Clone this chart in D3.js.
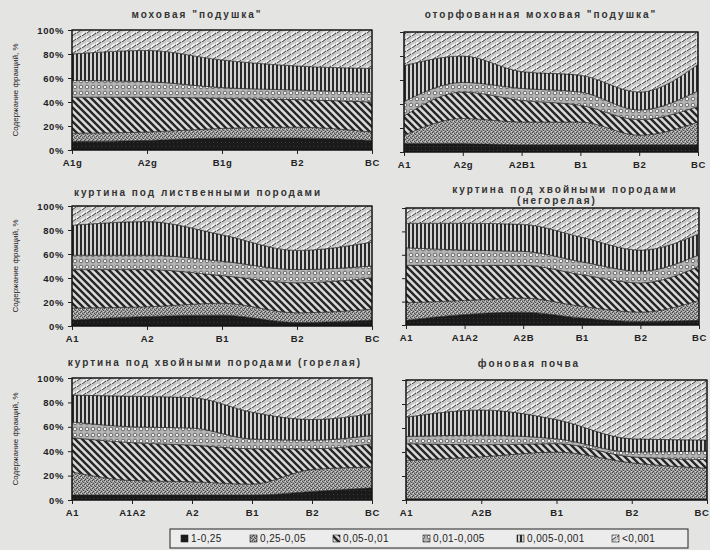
<!DOCTYPE html>
<html><head><meta charset="utf-8">
<script src="https://cdn.jsdelivr.net/npm/d3@7"></script>
<style>
html,body{margin:0;padding:0;background:#e4e4e2;}
svg{display:block;font-family:"Liberation Sans",Arial,sans-serif;}
</style></head><body>
<svg id="c" width="710" height="550"></svg>
<script>
// ---- data ----
const fractions = ["1-0,25","0,25-0,05","0,05-0,01","0,01-0,005","0,005-0,001","<0,001"];
const yTicks = [0,20,40,60,80,100];

const p1Title = "моховая \"подушка\"";
const p1Cats = ["A1g","A2g","B1g","B2","BC"];
const p1Values = [[7,8,10,10,8],[7,7,8,9,7],[30,29,25,23,25],[14,13,9,8,8],[22,26,23,20,20],[20,17,25,30,32]];

const p2Title = "оторфованная моховая \"подушка\"";
const p2Cats = ["A1","A2g","A2B1","B1","B2","BC"];
const p2Values = [[7,7,6,6,6,6],[7,21,19,19,8,19],[16,22,18,14,13,13],[12,8,10,11,8,13],[30,22,14,14,15,22],[28,20,33,36,50,27]];

const p3Title = "куртина под лиственными породами";
const p3Cats = ["A1","A2","B1","B2","BC"];
const p3Values = [[5,8,9,3,5],[10,8,10,8,9],[32,31,23,25,26],[12,12,12,11,10],[25,28,22,16,20],[16,13,24,37,30]];

const p4Title = ["куртина под хвойными породами","(негорелая)"];
const p4Cats = ["A1","A1A2","A2B","B1","B2","BC"];
const p4Values = [[4,9,11,6,3,4],[15,12,12,10,8,17],[32,30,28,27,25,29],[15,13,12,11,10,10],[21,23,23,21,18,18],[13,13,14,25,36,22]];

const p5Title = "куртина под хвойными породами  (горелая)";
const p5Cats = ["A1","A1A2","A2","B1","B2","BC"];
const p5Values = [[4,4,4,4,7,10],[19,12,11,9,18,17],[28,31,30,29,17,19],[13,13,14,8,7,7],[22,25,25,22,17,18],[14,15,16,28,34,29]];

const p6Title = "фоновая почва";
const p6Cats = ["A1","A2B","B1","B2","BC"];
const p6Values = [[1,1,1,1,1],[32,35,39,30,25],[14,10,7,5,7],[6,8,4,4,7],[16,21,16,11,9],[31,25,33,49,49]];

const yLabel = "Содержание фракций, %";

// ---- drawing ----
const svg = d3.select("#c");
const defs = svg.append("defs");

function pat(id,w,h,bg,draw){
  const p = defs.append("pattern").attr("id",id).attr("patternUnits","userSpaceOnUse").attr("width",w).attr("height",h);
  p.append("rect").attr("width",w).attr("height",h).attr("fill",bg);
  draw(p);
}
pat("f0",4,4,"#1a1a1a",p=>{p.append("rect").attr("x",1).attr("y",2).attr("width",1).attr("height",1).attr("fill","#3a3a3a");});
pat("f1",4,4,"#9c9c9c",p=>{
  [[0,0],[2,1],[1,3],[3,2]].forEach(([x,y])=>p.append("rect").attr("x",x).attr("y",y).attr("width",1).attr("height",1).attr("fill","#4a4a4a"));
  [[1,1],[3,3]].forEach(([x,y])=>p.append("rect").attr("x",x).attr("y",y).attr("width",1).attr("height",1).attr("fill","#d4d4d4"));
});
pat("f2",7,7,"#dadada",p=>{
  p.append("path").attr("d","M-1,-1L8,8M-1,6L1,8M6,-1L8,1").attr("stroke","#262626").attr("stroke-width",2.4);
});
pat("f3",6,6,"#b4b4b4",p=>{
  p.append("circle").attr("cx",3).attr("cy",3).attr("r",1.8).attr("fill","#f0f0f0").attr("stroke","#505050").attr("stroke-width",0.8);
});
pat("f4",4,4,"#d2d2d2",p=>{
  p.append("rect").attr("x",0).attr("y",0).attr("width",2).attr("height",4).attr("fill","#2a2a2a");
});
pat("f5",10,6,"#c9c9c9",p=>{
  p.append("path").attr("d","M1,5L5,2M6,2L10,-1M-4,2L0,-1").attr("stroke","#f2f2f2").attr("stroke-width",1.8);
  p.append("path").attr("d","M2,6L6,3M7,3L11,0M-3,3L1,0").attr("stroke","#404040").attr("stroke-width",1);
});

const panels = [
  {title:[p1Title],cats:p1Cats,vals:p1Values,l:72,r:372,t:30,b:150,labels:true,ty:[18],tx:[197]},
  {title:[p2Title],cats:p2Cats,vals:p2Values,l:404,r:698,t:32,b:152,labels:false,ty:[18],tx:[541]},
  {title:[p3Title],cats:p3Cats,vals:p3Values,l:72,r:372,t:206,b:326,labels:true,ty:[196],tx:[198]},
  {title:p4Title,cats:p4Cats,vals:p4Values,l:406,r:699,t:208,b:325,labels:false,ty:[193,204],tx:[565,557]},
  {title:[p5Title],cats:p5Cats,vals:p5Values,l:72,r:372,t:378,b:500,labels:true,ty:[366],tx:[215]},
  {title:[p6Title],cats:p6Cats,vals:p6Values,l:406,r:707,t:380,b:500,labels:false,ty:[367],tx:[529],lastEnd:true}
];

panels.forEach(P=>{
  const rows = P.cats.map((c,i)=>{const o={cat:c};fractions.forEach((f,k)=>o[f]=P.vals[k][i]);return o;});
  const stack = d3.stack().keys(fractions).offset(d3.stackOffsetExpand)(rows);
  const x = d3.scalePoint().domain(P.cats).range([P.l,P.r]);
  const y = d3.scaleLinear().domain([0,1]).range([P.b,P.t]);
  const area = d3.area().x(d=>x(d.data.cat)).y0(d=>y(d[0])).y1(d=>y(d[1])).curve(d3.curveMonotoneX);
  const g = svg.append("g");
  g.selectAll("path.a").data(stack).join("path").attr("class","a")
    .attr("d",area).attr("fill",(d,i)=>"url(#f"+i+")").attr("stroke","#222").attr("stroke-width",0.6);
  g.append("rect").attr("x",P.l).attr("y",P.t).attr("width",P.r-P.l).attr("height",P.b-P.t)
    .attr("fill","none").attr("stroke","#111").attr("stroke-width",1.3);
  const yA = d3.axisLeft(d3.scaleLinear().domain([0,100]).range([P.b,P.t])).tickValues(yTicks)
     .tickSize(4).tickFormat(P.labels? (d=>d+"%") : (()=>""));
  const ya = g.append("g").attr("transform",`translate(${P.l},0)`).call(yA);
  ya.select(".domain").remove();
  ya.selectAll("text").attr("font-size",9.5).attr("font-weight","bold").attr("fill","#222").attr("letter-spacing",0.6).attr("dx",-1);
  ya.selectAll("line").attr("stroke","#222");
  const xA = d3.axisBottom(x).tickSize(4);
  const xa = g.append("g").attr("transform",`translate(0,${P.b})`).call(xA);
  xa.select(".domain").remove();
  xa.selectAll("text").attr("font-size",9.5).attr("font-weight","bold").attr("fill","#222").attr("letter-spacing",0.6).attr("dy","0.9em");
  if(P.lastEnd) xa.selectAll("text").filter((d,i,n)=>i===n.length-1).attr("text-anchor","end").attr("dx",2);
  xa.selectAll("line").attr("stroke","#222");
  P.title.forEach((t,i)=>{
    g.append("text").attr("x",P.tx[i]).attr("y",P.ty[i]).attr("text-anchor","middle")
      .attr("font-size",10).attr("font-weight","bold").attr("fill","#333").attr("letter-spacing",2).text(t);
  });
  if(P.labels){
    g.append("text").attr("transform",`translate(${P.l-54},${(P.t+P.b)/2}) rotate(-90)`)
      .attr("text-anchor","middle").attr("font-size",8).attr("fill","#222").text(yLabel);
  }
});

// legend
const lg = svg.append("g");
lg.append("rect").attr("x",170).attr("y",529).attr("width",518).attr("height",19)
  .attr("fill","#ececec").attr("stroke","#222").attr("stroke-width",1);
const lxs = [181,250,333,423,517,612];
fractions.forEach((f,i)=>{
  lg.append("rect").attr("x",lxs[i]).attr("y",535).attr("width",7).attr("height",7)
    .attr("fill","url(#f"+i+")").attr("stroke","#222").attr("stroke-width",0.6);
  lg.append("text").attr("x",lxs[i]+10).attr("y",542).attr("font-size",10).attr("letter-spacing",0.4).attr("fill","#222").text(f);
});
</script>
</body></html>
